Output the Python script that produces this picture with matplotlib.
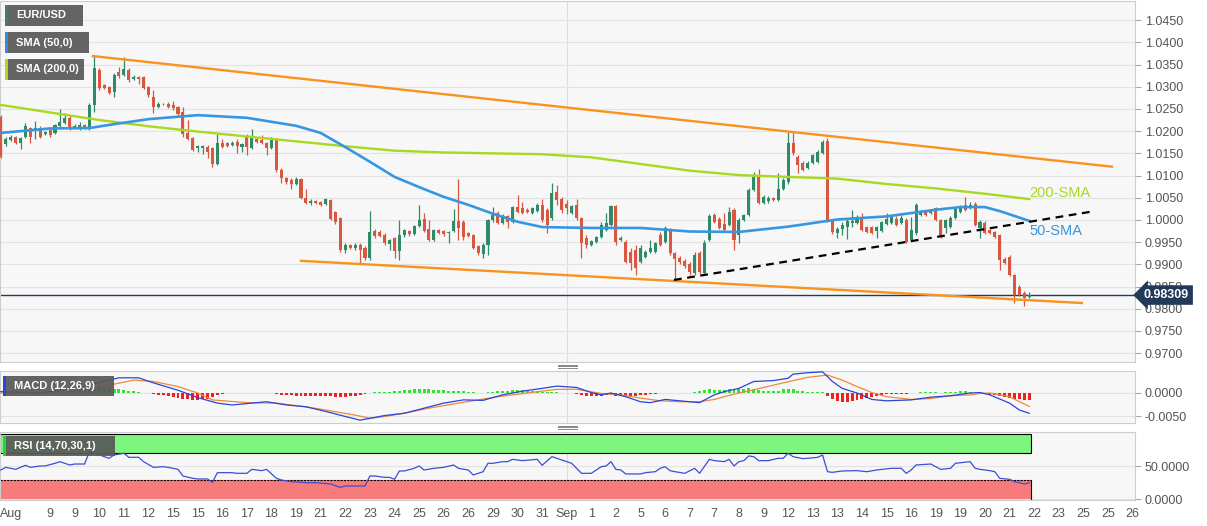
import numpy as np
import matplotlib
matplotlib.use('Agg')
import matplotlib.pyplot as plt
import matplotlib.transforms as mtransforms
from matplotlib.patches import Rectangle
from matplotlib.lines import Line2D

plt.rcParams['font.family'] = ['Liberation Sans', 'DejaVu Sans']

# EUR/USD 4H candles (open, high, low, close)
opens = [1.0232, 1.0171, 1.0180, 1.0187, 1.0173, 1.0187, 1.0207, 1.0203, 1.0207, 1.0194,
         1.0203, 1.0196, 1.0212, 1.0219, 1.0230, 1.0207, 1.0205, 1.0214, 1.0207, 1.0259,
         1.0338, 1.0304, 1.0300, 1.0288, 1.0333, 1.0327, 1.0338, 1.0317, 1.0322, 1.0322,
         1.0300, 1.0277, 1.0254, 1.0261, 1.0261, 1.0259, 1.0254, 1.0243, 1.0196, 1.0185,
         1.0162, 1.0162, 1.0164, 1.0162, 1.0126, 1.0173, 1.0173, 1.0169, 1.0176, 1.0164,
         1.0187, 1.0162, 1.0182, 1.0180, 1.0173, 1.0162, 1.0180, 1.0113, 1.0095, 1.0090,
         1.0081, 1.0092, 1.0050, 1.0038, 1.0043, 1.0041, 1.0036, 1.0045, 1.0018, 1.0005,
         0.9932, 0.9944, 0.9937, 0.9944, 0.9937, 0.9914, 0.9975, 0.9973, 0.9966, 0.9946,
         0.9959, 0.9930, 0.9966, 0.9975, 0.9968, 0.9986, 1.0002, 0.9980, 0.9955, 0.9977,
         0.9975, 0.9971, 0.9975, 0.9998, 0.9995, 0.9971, 0.9966, 0.9941, 0.9923, 0.9944,
         1.0000, 1.0016, 0.9993, 1.0009, 0.9995, 1.0029, 1.0027, 1.0023, 1.0016, 1.0020,
         1.0034, 1.0023, 1.0005, 1.0063, 1.0047, 1.0036, 1.0016, 1.0034, 1.0005, 0.9959,
         0.9944, 0.9950, 0.9962, 0.9977, 0.9989, 1.0032, 0.9955, 0.9950, 0.9928, 0.9932,
         0.9905, 0.9917, 0.9928, 0.9928, 0.9966, 0.9950, 0.9977, 0.9926, 0.9914, 0.9908,
         0.9901, 0.9881, 0.9926, 0.9881, 0.9955, 1.0011, 1.0002, 0.9991, 0.9989, 1.0023,
         0.9966, 1.0000, 1.0011, 1.0068, 1.0097, 1.0038, 1.0043, 1.0050, 1.0045, 1.0070,
         1.0086, 1.0173, 1.0142, 1.0128, 1.0117, 1.0128, 1.0131, 1.0151, 1.0178, 0.9998,
         0.9971, 0.9980, 0.9984, 0.9993, 0.9993, 1.0002, 0.9984, 0.9984, 0.9975, 0.9975,
         0.9991, 0.9993, 1.0002, 0.9993, 1.0000, 0.9955, 0.9971, 1.0011, 1.0018, 1.0016,
         1.0027, 1.0000, 0.9982, 0.9984, 1.0005, 1.0018, 1.0034, 1.0027, 1.0036, 0.9982,
         0.9993, 0.9977, 0.9973, 0.9966, 0.9912, 0.9917, 0.9876, 0.9850, 0.9836, 0.9827]
highs = [1.0236, 1.0187, 1.0191, 1.0189, 1.0187, 1.0219, 1.0209, 1.0223, 1.0212, 1.0200,
         1.0205, 1.0216, 1.0250, 1.0241, 1.0236, 1.0216, 1.0221, 1.0216, 1.0263, 1.0369,
         1.0342, 1.0306, 1.0302, 1.0331, 1.0345, 1.0367, 1.0342, 1.0327, 1.0324, 1.0324,
         1.0302, 1.0293, 1.0266, 1.0263, 1.0266, 1.0268, 1.0257, 1.0254, 1.0225, 1.0187,
         1.0169, 1.0169, 1.0169, 1.0164, 1.0194, 1.0182, 1.0176, 1.0178, 1.0182, 1.0173,
         1.0194, 1.0205, 1.0185, 1.0191, 1.0176, 1.0187, 1.0185, 1.0117, 1.0097, 1.0095,
         1.0097, 1.0095, 1.0070, 1.0047, 1.0045, 1.0043, 1.0050, 1.0047, 1.0020, 1.0007,
         0.9948, 0.9946, 0.9948, 0.9948, 0.9941, 1.0020, 0.9980, 0.9977, 0.9971, 0.9957,
         0.9962, 1.0000, 0.9980, 0.9977, 0.9989, 1.0034, 1.0016, 1.0000, 0.9980, 0.9980,
         0.9977, 0.9975, 1.0025, 1.0092, 1.0000, 0.9973, 0.9968, 0.9944, 0.9948, 1.0002,
         1.0029, 1.0020, 1.0014, 1.0011, 1.0032, 1.0056, 1.0041, 1.0027, 1.0029, 1.0038,
         1.0047, 1.0027, 1.0083, 1.0079, 1.0052, 1.0045, 1.0034, 1.0047, 1.0007, 0.9966,
         0.9955, 0.9964, 0.9995, 1.0016, 1.0034, 1.0034, 0.9964, 0.9955, 0.9937, 0.9944,
         0.9944, 0.9932, 0.9955, 0.9950, 0.9973, 0.9986, 0.9982, 0.9928, 0.9919, 0.9912,
         0.9905, 0.9928, 0.9930, 0.9955, 1.0014, 1.0016, 1.0007, 1.0016, 1.0029, 1.0027,
         1.0005, 1.0014, 1.0072, 1.0108, 1.0115, 1.0056, 1.0054, 1.0052, 1.0106, 1.0095,
         1.0198, 1.0198, 1.0146, 1.0133, 1.0133, 1.0149, 1.0158, 1.0180, 1.0185, 1.0002,
         0.9984, 0.9995, 1.0002, 1.0023, 1.0011, 1.0016, 0.9986, 0.9986, 0.9986, 0.9998,
         1.0016, 1.0011, 1.0009, 1.0011, 1.0005, 1.0007, 1.0038, 1.0023, 1.0020, 1.0025,
         1.0029, 1.0002, 1.0002, 1.0009, 1.0027, 1.0034, 1.0052, 1.0041, 1.0041, 1.0000,
         0.9998, 0.9980, 0.9975, 0.9968, 0.9917, 0.9921, 0.9878, 0.9854, 0.9840, 0.9838]
lows = [1.0140, 1.0167, 1.0178, 1.0171, 1.0160, 1.0185, 1.0173, 1.0182, 1.0185, 1.0191,
        1.0187, 1.0194, 1.0209, 1.0216, 1.0203, 1.0205, 1.0203, 1.0205, 1.0203, 1.0243,
        1.0293, 1.0295, 1.0284, 1.0277, 1.0320, 1.0324, 1.0311, 1.0315, 1.0306, 1.0295,
        1.0277, 1.0241, 1.0252, 1.0259, 1.0252, 1.0248, 1.0236, 1.0187, 1.0180, 1.0155,
        1.0153, 1.0149, 1.0140, 1.0119, 1.0124, 1.0162, 1.0164, 1.0167, 1.0151, 1.0153,
        1.0146, 1.0160, 1.0173, 1.0171, 1.0146, 1.0160, 1.0108, 1.0083, 1.0081, 1.0070,
        1.0079, 1.0047, 1.0036, 1.0034, 1.0036, 1.0032, 1.0034, 1.0000, 0.9991, 0.9928,
        0.9926, 0.9935, 0.9932, 0.9903, 0.9910, 0.9910, 0.9959, 0.9962, 0.9944, 0.9932,
        0.9914, 0.9910, 0.9962, 0.9964, 0.9966, 0.9984, 0.9973, 0.9953, 0.9953, 0.9968,
        0.9964, 0.9948, 0.9973, 0.9955, 0.9955, 0.9962, 0.9935, 0.9921, 0.9914, 0.9921,
        0.9995, 0.9991, 0.9991, 0.9982, 0.9993, 1.0016, 1.0014, 1.0016, 1.0014, 1.0018,
        0.9995, 0.9971, 1.0000, 1.0034, 1.0016, 1.0014, 1.0014, 1.0000, 0.9914, 0.9937,
        0.9941, 0.9948, 0.9959, 0.9975, 0.9986, 0.9944, 0.9953, 0.9903, 0.9887, 0.9876,
        0.9903, 0.9914, 0.9926, 0.9926, 0.9941, 0.9948, 0.9921, 0.9867, 0.9901, 0.9892,
        0.9876, 0.9876, 0.9878, 0.9876, 0.9953, 0.9993, 0.9980, 0.9975, 0.9986, 0.9932,
        0.9948, 0.9998, 1.0009, 1.0065, 1.0036, 1.0036, 1.0038, 1.0043, 1.0043, 1.0068,
        1.0081, 1.0146, 1.0106, 1.0110, 1.0115, 1.0126, 1.0128, 1.0149, 0.9995, 0.9968,
        0.9959, 0.9966, 0.9957, 0.9984, 0.9991, 0.9975, 0.9971, 0.9968, 0.9959, 0.9973,
        0.9989, 0.9991, 0.9986, 0.9991, 0.9948, 0.9953, 0.9966, 1.0009, 1.0009, 1.0014,
        0.9998, 0.9959, 0.9971, 0.9982, 1.0002, 1.0016, 1.0020, 1.0025, 0.9986, 0.9959,
        0.9968, 0.9968, 0.9959, 0.9887, 0.9901, 0.9874, 0.9813, 0.9829, 0.9806, 0.9825]
closes = [1.0142, 1.0182, 1.0187, 1.0173, 1.0185, 1.0212, 1.0187, 1.0207, 1.0187, 1.0198,
          1.0191, 1.0214, 1.0221, 1.0230, 1.0205, 1.0212, 1.0214, 1.0209, 1.0259, 1.0342,
          1.0297, 1.0297, 1.0286, 1.0327, 1.0324, 1.0340, 1.0315, 1.0322, 1.0317, 1.0297,
          1.0281, 1.0254, 1.0261, 1.0262, 1.0254, 1.0252, 1.0239, 1.0194, 1.0182, 1.0158,
          1.0167, 1.0167, 1.0153, 1.0126, 1.0173, 1.0164, 1.0167, 1.0173, 1.0167, 1.0171,
          1.0164, 1.0185, 1.0176, 1.0173, 1.0162, 1.0180, 1.0113, 1.0095, 1.0086, 1.0081,
          1.0092, 1.0050, 1.0038, 1.0043, 1.0038, 1.0034, 1.0047, 1.0002, 0.9995, 0.9932,
          0.9944, 0.9937, 0.9944, 0.9932, 0.9914, 0.9973, 0.9964, 0.9964, 0.9948, 0.9955,
          0.9930, 0.9966, 0.9977, 0.9968, 0.9986, 1.0000, 0.9975, 0.9955, 0.9977, 0.9971,
          0.9968, 0.9973, 0.9998, 0.9982, 0.9962, 0.9964, 0.9937, 0.9926, 0.9944, 1.0000,
          1.0011, 0.9993, 1.0009, 0.9995, 1.0029, 1.0018, 1.0016, 1.0018, 1.0027, 1.0034,
          1.0000, 0.9989, 1.0061, 1.0045, 1.0023, 1.0027, 1.0032, 1.0005, 0.9948, 0.9944,
          0.9953, 0.9962, 0.9989, 0.9993, 1.0032, 0.9950, 0.9959, 0.9905, 0.9903, 0.9892,
          0.9937, 0.9928, 0.9937, 0.9948, 0.9944, 0.9982, 0.9926, 0.9912, 0.9905, 0.9896,
          0.9883, 0.9921, 0.9883, 0.9948, 1.0009, 0.9995, 0.9982, 0.9977, 1.0018, 0.9955,
          1.0000, 1.0011, 1.0068, 1.0097, 1.0038, 1.0052, 1.0050, 1.0045, 1.0070, 1.0090,
          1.0173, 1.0151, 1.0124, 1.0113, 1.0128, 1.0146, 1.0153, 1.0176, 0.9998, 0.9973,
          0.9980, 0.9989, 0.9998, 0.9998, 1.0007, 0.9977, 0.9973, 0.9971, 0.9984, 0.9995,
          1.0002, 1.0007, 0.9989, 1.0005, 0.9950, 0.9977, 1.0034, 1.0018, 1.0011, 1.0023,
          1.0000, 0.9962, 1.0000, 1.0005, 1.0025, 1.0029, 1.0023, 1.0034, 0.9989, 0.9995,
          0.9971, 0.9971, 0.9962, 0.9910, 0.9903, 0.9876, 0.9831, 0.9831, 0.9825, 0.98309]
last_price = 0.98309

# moving averages (candle index, value)
sma50_idx = [0, 10, 18, 22, 30, 40, 50, 60, 65, 70, 75, 80, 85, 90, 95, 100, 105, 110,
             120, 130, 140, 150, 160, 165, 170, 180, 190, 195, 200, 203, 206, 209]
sma50_val = [1.0196, 1.0206, 1.0207, 1.0214, 1.0227, 1.0236, 1.0230, 1.0212, 1.0196, 1.0164,
             1.0131, 1.0097, 1.0074, 1.0052, 1.0034, 1.0014, 0.9996, 0.9984, 0.9982, 0.9982,
             0.9974, 0.9973, 0.9985, 0.9993, 1.0001, 1.0008, 1.0023, 1.0029, 1.0029, 1.0020,
             1.0009, 0.9998]
sma200_idx = [0, 10, 20, 30, 40, 50, 60, 70, 80, 90, 100, 110, 120, 130, 140, 150, 160,
              170, 180, 190, 200, 209]
sma200_val = [1.0259, 1.0242, 1.0225, 1.0211, 1.0199, 1.0188, 1.0177, 1.0166, 1.0156, 1.0152,
              1.0150, 1.0148, 1.0141, 1.0126, 1.0111, 1.0101, 1.0097, 1.0093, 1.0081, 1.0071,
              1.0059, 1.0047]

# drawn trend lines (candle index, price)
upper_line_idx = [18.7, 225.8]
upper_line_val = [1.0369, 1.0120]
lower_line_idx = [61.0, 219.7]
lower_line_val = [0.9908, 0.9813]
support_idx = [136.8, 221.8]
support_val = [0.9865, 1.0019]

# MACD (12,26,9)
macd_idx = [0, 8, 15, 19, 24, 28, 31, 36, 40, 44, 47, 54, 58, 62, 66, 70, 73, 78, 82, 86,
            90, 94, 98, 102, 106, 110, 113, 117, 120, 122, 124, 127, 130, 132, 135, 138, 142,
            145, 147, 150, 153, 157, 160, 161, 164, 167, 169, 171, 174, 177, 180, 185, 189,
            193, 197, 199, 201, 205, 207, 209]
macd_val = [0.0003, 0.0000, 0.0012, 0.0020, 0.0033, 0.0033, 0.0022, 0.0006, -0.0010, -0.0022,
            -0.0026, -0.0019, -0.0026, -0.0030, -0.0040, -0.0051, -0.0059, -0.0049, -0.0044, -0.0033,
            -0.0022, -0.0015, -0.0016, -0.0004, 0.0004, 0.0010, 0.0015, 0.0012, 0.0001, -0.0004,
            0.0000, -0.0008, -0.0019, -0.0021, -0.0014, -0.0017, -0.0021, -0.0004, 0.0003, 0.0010,
            0.0025, 0.0027, 0.0032, 0.0041, 0.0044, 0.0046, 0.0025, 0.0010, 0.0000, -0.0014,
            -0.0017, -0.0015, -0.0009, -0.0006, 0.0000, 0.0001, -0.0004, -0.0022, -0.0037, -0.0044]
signal_idx = [0, 8, 15, 22, 27, 31, 36, 40, 43, 50, 56, 62, 66, 72, 75, 78, 82, 87, 93, 97,
              101, 107, 113, 117, 122, 126, 130, 134, 138, 142, 145, 147, 150, 153, 157, 161,
              164, 168, 171, 174, 177, 180, 185, 189, 193, 197, 199, 201, 205, 207, 209]
signal_val = [0.0000, 0.0001, 0.0005, 0.0017, 0.0028, 0.0025, 0.0014, 0.0000, -0.0015, -0.0021,
              -0.0022, -0.0030, -0.0037, -0.0048, -0.0055, -0.0051, -0.0044, -0.0033, -0.0022, -0.0015,
              -0.0008, 0.0000, 0.0008, 0.0008, -0.0001, -0.0004, -0.0011, -0.0017, -0.0019, -0.0019,
              -0.0014, -0.0008, 0.0000, 0.0007, 0.0017, 0.0027, 0.0034, 0.0039, 0.0028, 0.0014,
              0.0001, -0.0008, -0.0014, -0.0012, -0.0006, -0.0004, -0.0001, 0.0000, -0.0008, -0.0019,
              -0.0029]
hist_pips = [0, 0, 0, 0, 1, 1, 2, 2, 2, 3,
             3, 4, 5, 6, 6, 7, 8, 8, 9, 11,
             12, 11, 10, 9, 8, 7, 5, 4, 2, 1,
             -1, -3, -4, -5, -6, -8, -10, -12, -14, -15,
             -15, -14, -12, -9, -5, -3, -1, 1, 1, 1,
             1, 1, 0, 1, 0, -1, -3, -4, -5, -5,
             -6, -6, -7, -7, -7, -7, -7, -7, -8, -8,
             -8, -7, -6, -4, -2, 1, 2, 2, 3, 3,
             4, 5, 6, 7, 8, 9, 9, 8, 7, 6,
             6, 5, 5, 5, 4, 3, 2, 1, 1, 2,
             3, 4, 5, 5, 6, 6, 6, 5, 5, 4,
             3, 2, 2, 2, 1, 0, -1, -2, -4, -6,
             -7, -7, -6, -5, -5, -6, -7, -7, -7, -6,
             -5, -4, -3, -2, 1, -1, -1, -1, -1, -1,
             1, 2, 5, 7, 8, 7, 6, 6, 8, 8,
             9, 9, 10, 9, 6, 4, 4, 4, 5, 8,
             9, 8, 5, 4, 3, 3, 3, 3, -6, -14,
             -18, -20, -19, -17, -15, -12, -10, -8, -6, -4,
             -3, -2, -2, -2, -2, -1, 1, 2, 2, 2,
             2, 1, 2, 3, 3, 4, 4, 3, 1, 0,
             -2, -4, -5, -7, -9, -11, -13, -14, -15, -15]

# RSI (14)
rsi_idx = [0, 1, 3, 5, 6, 8, 9, 11, 12, 14, 15, 17, 18, 19, 22, 23, 25, 26, 28, 29,
           31, 33, 34, 36, 37, 39, 40, 42, 43, 44, 47, 48, 50, 51, 53, 54, 56, 57, 59, 61,
           62, 64, 67, 69, 70, 72, 74, 75, 76, 78, 79, 80, 81, 82, 84, 85, 86, 88, 90, 92,
           93, 95, 96, 98, 99, 100, 102, 103, 104, 106, 109, 110, 112, 114, 116, 118, 120, 122, 123, 124,
           125, 126, 127, 130, 131, 133, 134, 135, 136, 137, 139, 141, 142, 144, 145, 147, 148, 149, 150, 151,
           152, 153, 154, 156, 158, 159, 160, 161, 163, 164, 166, 167, 168, 169, 171, 174, 176, 178, 181, 183,
           184, 185, 186, 189, 191, 193, 194, 197, 198, 199, 201, 202, 203, 205, 206, 207, 208, 209]
rsi_val = [44.6, 48.7, 45.6, 51.8, 48.7, 50.8, 50.8, 54.9, 57.4, 52.3, 53.8, 53.8, 72.8, 70.3, 62.6, 67.7, 70.3, 64.1, 64.1, 57.4,
           48.7, 49.7, 48.7, 45.6, 35.4, 31.8, 30.8, 30.8, 25.6, 40.5, 40.5, 39.5, 39.5, 45.6, 43.6, 45.6, 31.8, 29.2, 26.7, 25.6,
           25.1, 25.1, 23.1, 17.9, 20.0, 20.0, 20.0, 35.4, 35.4, 33.3, 33.3, 30.3, 43.1, 43.1, 47.2, 50.8, 44.6, 47.2, 48.7, 52.3,
           47.2, 44.6, 36.9, 42.0, 54.9, 54.9, 57.4, 57.4, 61.0, 59.0, 61.0, 51.8, 65.1, 60.0, 54.9, 39.5, 39.5, 49.7, 50.8, 57.4,
           45.6, 44.6, 38.5, 38.5, 40.5, 42.0, 47.2, 49.7, 43.6, 42.0, 39.5, 47.2, 39.5, 61.0, 59.0, 57.4, 61.0, 50.8, 57.4, 59.0,
           66.2, 65.1, 59.0, 59.0, 62.6, 62.6, 70.3, 65.1, 62.1, 62.6, 64.1, 67.7, 42.0, 41.0, 43.1, 43.6, 42.0, 44.6, 47.2, 47.2,
           39.5, 44.6, 52.3, 53.8, 45.6, 47.2, 54.9, 57.4, 47.2, 45.6, 43.6, 42.0, 31.8, 30.3, 26.7, 25.0, 23.1, 25.0]

# x axis labels (one every 5 candles)
first_label = 'Aug'
tick_labels = ['9', '9', '10', '11', '12', '15', '15', '16', '17', '18', '19', '21', '22', '23',
               '24', '25', '26', '26', '29', '30', '31', 'Sep', '1', '2', '5', '6', '7', '7', '8',
               '9', '12', '13', '13', '14', '15', '16', '19', '19', '20', '21', '22', '23', '25',
               '25', '26']
price_ticks = [0.9700, 0.9750, 0.9800, 0.9850, 0.9900, 0.9950, 1.0000, 1.0050, 1.0100,
               1.0150, 1.0200, 1.0250, 1.0300, 1.0350, 1.0400, 1.0450]

GREEN = '#2f8a68'
RED = '#d9573f'
PANEL_BG = '#f7f7f7'
GRID = '#e3e3e3'
TXT = '#555555'

W, H = 1207, 526
fig = plt.figure(figsize=(W / 100, H / 100), dpi=100)
fig.patch.set_facecolor('white')


def px_rect(x0, y0, x1, y1):
    return [x0 / W, 1 - y1 / H, (x1 - x0) / W, (y1 - y0) / H]


ax = fig.add_axes(px_rect(0, 1, 1135, 362))
ax_macd = fig.add_axes(px_rect(0, 371, 1135, 423), sharex=ax)
ax_rsi = fig.add_axes(px_rect(0, 432, 1135, 500), sharex=ax)

o = np.array(opens)
h = np.array(highs)
l = np.array(lows)
c = np.array(closes)
x = np.arange(len(c))
n = len(c)
cols = np.where(c >= o, GREEN, RED)

for a in (ax, ax_macd, ax_rsi):
    a.set_facecolor(PANEL_BG)
    for s in a.spines.values():
        s.set_color('#cdcdcd')
        s.set_linewidth(0.8)
    a.yaxis.tick_right()
    a.tick_params(axis='y', length=4, color='#aaaaaa', labelsize=9, labelcolor=TXT, pad=3)
    a.tick_params(axis='x', length=0)
    a.grid(axis='y', color=GRID, lw=0.8)
    a.set_axisbelow(True)
    a.axvline(115, color='#dcdcdc', lw=0.8, zorder=0)

# --- price panel
ax.vlines(x, l, h, colors=cols, lw=0.9, zorder=3)
ax.bar(x, np.maximum(np.abs(c - o), 0.00006), width=0.62, bottom=np.minimum(o, c),
       color=cols, linewidth=0, zorder=4)
ax.plot(sma200_idx, sma200_val, color='#a9d821', lw=1.7, zorder=5)
ax.plot(sma50_idx, sma50_val, color='#3796e0', lw=1.9, zorder=5)
ax.plot(upper_line_idx, upper_line_val, color='#f7931e', lw=1.7, zorder=6)
ax.plot(lower_line_idx, lower_line_val, color='#f7931e', lw=1.7, zorder=6)
ax.plot(support_idx, support_val, color='black', lw=1.6, dashes=(3.5, 2.5), zorder=6)
ax.axhline(last_price, color='#22395a', lw=1.0, zorder=2)

ax.text(209, 1.0061, '200-SMA', color='#a9d821', fontsize=10.5, va='center', ha='left', zorder=7)
ax.text(209, 0.9975, '50-SMA', color='#3796e0', fontsize=10.5, va='center', ha='left', zorder=7)

blend = mtransforms.blended_transform_factory(ax.transAxes, ax.transData)
ax.text(1.0 + 9 / 1135, last_price, f'{last_price:.5f}', transform=blend, ha='left',
        va='center', color='white', fontsize=9, fontweight='bold', zorder=10, clip_on=False,
        bbox=dict(boxstyle='larrow,pad=0.3', fc='#22395a', ec='none'))

ax.set_xlim(-0.18, 230.5)
ax.set_ylim(0.96802, 1.0493)
ax.set_yticks(price_ticks)
ax.set_yticklabels([f'{t:.4f}' for t in price_ticks])
ax.tick_params(axis='x', labelbottom=False)

# --- MACD panel
hist = np.array(hist_pips) * 0.0001
ax_macd.bar(x, hist, width=0.6, color=np.where(hist >= 0, '#35e035', '#ee2020'),
            linewidth=0, zorder=2)
ax_macd.plot(signal_idx, signal_val, color='#f0883a', lw=0.9, zorder=3)
ax_macd.plot(macd_idx, macd_val, color='#2a45d8', lw=0.9, zorder=4)
ax_macd.set_ylim(-0.00652, 0.00478)
ax_macd.set_yticks([-0.005, 0.0])
ax_macd.set_yticklabels(['-0.0050', '0.0000'])
ax_macd.tick_params(axis='x', labelbottom=False)

# --- RSI panel
x_end = n - 1 + 0.3
ax_rsi.add_patch(Rectangle((-0.18, 70), x_end + 0.18, 30, facecolor='#7df67d',
                           edgecolor='black', lw=0.8, zorder=1))
ax_rsi.add_patch(Rectangle((-0.18, 0), x_end + 0.18, 30, facecolor='#f77b7b',
                           edgecolor='none', zorder=1))
ax_rsi.plot([-0.18, x_end], [30, 30], color='black', lw=0.8, dashes=(2, 1), zorder=2)
ax_rsi.plot([x_end, x_end], [0, 30], color='black', lw=0.8, zorder=2)
ax_rsi.plot(rsi_idx, rsi_val, color='#3a4fd2', lw=0.9, zorder=3)
ax_rsi.set_ylim(-1.5, 103)
ax_rsi.set_yticks([0, 50])
ax_rsi.set_yticklabels(['0.0000', '50.0000'])
ax_rsi.set_xticks([2] + [10 + 5 * k for k in range(len(tick_labels))])
ax_rsi.set_xticklabels([first_label] + tick_labels)
ax_rsi.tick_params(axis='x', labelsize=9, labelcolor=TXT, pad=6)


# --- legend tags
def tag(x0, y0, x1, y1, text, stripe):
    fig.add_artist(Rectangle((x0 / W, 1 - y1 / H), (x1 - x0) / W, (y1 - y0) / H,
                             transform=fig.transFigure, facecolor='#595959', alpha=0.93,
                             edgecolor='none', zorder=20))
    fig.add_artist(Rectangle((x0 / W, 1 - y1 / H), 2.5 / W, (y1 - y0) / H,
                             transform=fig.transFigure, facecolor=stripe,
                             edgecolor='none', zorder=21))
    fig.text((x0 + 11) / W, 1 - ((y0 + y1) / 2) / H, text, color='white', fontsize=8,
             fontweight='bold', va='center', ha='left', zorder=22)


tag(5, 5, 83, 26, 'EUR/USD', '#3d7f6a')
tag(5, 32, 89, 53, 'SMA (50,0)', '#3a8ad8')
tag(5, 59, 84, 80, 'SMA (200,0)', '#b5d31e')
tag(3, 376, 114, 396, 'MACD (12,26,9)', '#2a45d8')
tag(3, 436, 115, 456, 'RSI (14,70,30,1)', '#2ecc40')

# panel resize handles
for yy in (366, 427):
    for dy in (-1.5, 0, 1.5):
        fig.add_artist(Line2D([558 / W, 577 / W], [1 - (yy + dy) / H] * 2,
                              transform=fig.transFigure, color='#888888', lw=0.7))

fig.savefig('out.png', dpi=100, facecolor='white')
